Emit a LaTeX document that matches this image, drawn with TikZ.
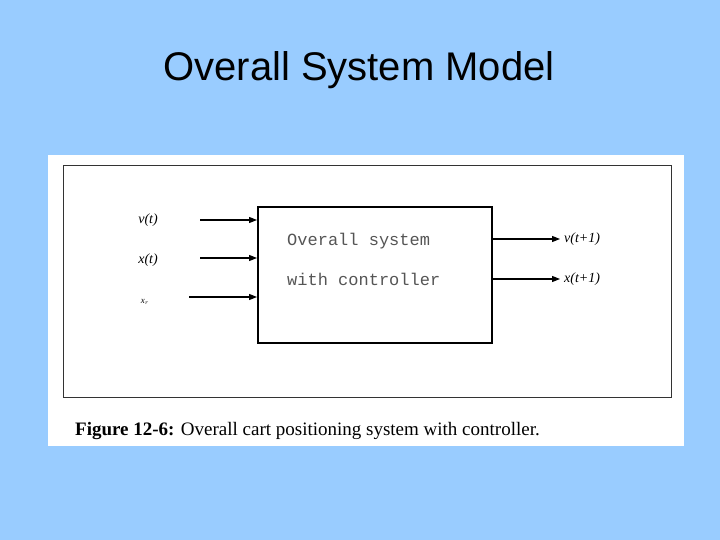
\documentclass[tikz,border=0pt]{standalone}
\usepackage{fontspec}
\setmainfont{Liberation Serif}
\newfontfamily\titlefont{Liberation Sans}
\newfontfamily\monofont{Liberation Mono}
\usetikzlibrary{arrows.meta}
\definecolor{slidebg}{HTML}{99CCFF}
\definecolor{boxtext}{HTML}{555555}
\tikzset{
  sig/.style={draw=black, line width=1.1pt, -{Triangle[length=8pt,width=6pt]}},
  lab/.style={font=\itshape\fontsize{14}{14}\selectfont, inner sep=0pt},
  btxt/.style={font=\monofont\fontsize{17}{17}\selectfont, text=boxtext, anchor=base west, inner sep=0pt}
}
\begin{document}
\begin{tikzpicture}[x=1pt,y=-1pt]
\fill[slidebg] (0,0) rectangle (720,540);
\useasboundingbox (0,0) rectangle (720,540);
\node[font=\titlefont\fontsize{40}{40}\selectfont, inner sep=0pt] (title) at (359,70) {Overall System Model};
\fill[white] (48,155) rectangle (684,446);
\draw[line width=0.8pt, black!80] (63,165) rectangle (671,397);
\node[draw, line width=1.6pt, minimum width=234pt, minimum height=136pt, inner sep=0pt, anchor=north west] (sys) at (257,206) {};
\node[btxt] (t1) at (287,245) {Overall system};
\node[btxt] (t2) at (287,285) {with controller};
% inputs
\coordinate (i1) at (200,220);
\coordinate (i2) at (200,258);
\coordinate (i3) at (189,297);
\draw[sig] (i1) -- (sys.west |- i1);
\draw[sig] (i2) -- (sys.west |- i2);
\draw[sig] (i3) -- (sys.west |- i3);
\node[lab] (l1) at (148,220) {v(t)};
\node[lab] (l2) at (148,260) {x(t)};
\node[lab, font=\itshape\fontsize{9}{9}\selectfont] (l3) at (145,302) {x$_r$};
% outputs
\coordinate (o1) at (560,239);
\coordinate (o2) at (560,279);
\draw[sig] (sys.east |- o1) -- (o1);
\draw[sig] (sys.east |- o2) -- (o2);
\node[lab, anchor=west] (r1) at (564,239) {v(t+1)};
\node[lab, anchor=west] (r2) at (564,279) {x(t+1)};
% caption
\node[anchor=base west, inner sep=0pt, font=\fontsize{19}{19}\selectfont] (cap) at (75,435) {\textbf{Figure 12-6:} Overall cart positioning system with controller.};
\end{tikzpicture}
\end{document}
